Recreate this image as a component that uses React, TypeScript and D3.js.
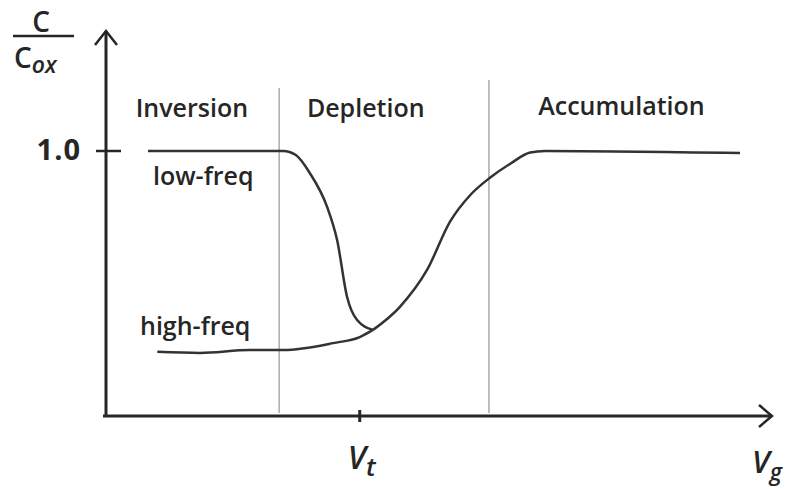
import React from "react";
import * as d3 from "d3";

const lowFreqX = [0.63, 2.66, 2.85, 3.06, 3.32, 3.47, 3.62, 3.77, 4.01];
const lowFreqY = [1.0, 1.0, 0.985, 0.917, 0.789, 0.664, 0.449, 0.362, 0.325];
const riseX = [4.01, 4.41, 4.82, 5.17, 5.47, 5.77, 6.07, 6.37, 6.59, 9.52];
const riseY = [0.325, 0.411, 0.551, 0.735, 0.834, 0.9, 0.952, 0.994, 1.0, 0.992];
const highFreqX = [0.77, 1.41, 2.16, 2.66, 3.41, 3.81, 4.01];
const highFreqY = [0.242, 0.238, 0.249, 0.249, 0.275, 0.298, 0.325];
const separators = [2.6, 5.75];
const vtValue = 3.81;
const regionLabels = ["Inversion", "Depletion", "Accumulation"];
const regionCenters = [1.29, 3.9, 7.74];
const yTickLabel = "1.0";

const W = 786, H = 489;
const x = d3.scaleLinear().domain([0, 10]).range([106, 772]);
const y = d3.scaleLinear().domain([0, 1]).range([416, 151]);

const line = d3
  .line<[number, number]>()
  .x((d) => x(d[0]))
  .y((d) => y(d[1]))
  .curve(d3.curveMonotoneX);

const zip = (a: number[], b: number[]) => a.map((v, i) => [v, b[i]] as [number, number]);

export default function App() {
  const font = "'Open Sans', sans-serif";
  const ink = "#262626";
  const txt = { fontFamily: font, fontSize: 25, fontWeight: 600, fill: ink } as const;
  return (
    <svg width={W} height={H} style={{ position: "absolute", left: 0, top: 0, background: "#fff" }}>
      {separators.map((s, i) => (
        <line key={i} x1={x(s)} x2={x(s)} y1={i === 0 ? 88 : 80} y2={413} stroke="#aaa" strokeWidth={1.5} />
      ))}
      {/* axes */}
      <line x1={106} x2={106} y1={31} y2={417} stroke={ink} strokeWidth={3} />
      <line x1={103} x2={772} y1={416} y2={416} stroke={ink} strokeWidth={3} />
      <polyline points="95,45 106,31 117,45" fill="none" stroke={ink} strokeWidth={2.5} />
      <polyline points="759,405 772,416 759,427" fill="none" stroke={ink} strokeWidth={2.5} />
      {/* 1.0 tick */}
      <line x1={96} x2={121} y1={y(1)} y2={y(1)} stroke={ink} strokeWidth={2.5} />
      <text x={81} y={y(1) + 9} textAnchor="end" fontFamily={font} fontWeight="bold" fontSize={29} letterSpacing={1} fill={ink}>{yTickLabel}</text>
      {/* Vt tick */}
      <line x1={x(vtValue)} x2={x(vtValue)} y1={410} y2={422} stroke={ink} strokeWidth={3} />
      <text x={x(vtValue) - 12} y={469} fontFamily={font} fontWeight={600} fontStyle="italic" fontSize={32} fill={ink}>
        V<tspan fontSize={26} dy={7}>t</tspan>
      </text>
      <text x={752} y={473} fontFamily={font} fontWeight={600} fontStyle="italic" fontSize={31} fill={ink}>
        V<tspan fontSize={23} dy={7}>g</tspan>
      </text>
      {/* C/Cox */}
      <text x={41} y={32} textAnchor="middle" fontFamily={font} fontWeight={600} fontSize={28} fill={ink}>C</text>
      <line x1={13} x2={74} y1={36} y2={36} stroke={ink} strokeWidth={2.5} />
      <text x={14} y={68} fontFamily={font} fontWeight={600} fontSize={28} fill={ink}>
        C<tspan fontSize={23} fontStyle="italic" dy={5}>ox</tspan>
      </text>
      {/* region labels */}
      {regionLabels.map((r, i) => (
        <text key={r} x={x(regionCenters[i])} y={i === 2 ? 115 : 117} textAnchor="middle" {...txt}>{r}</text>
      ))}
      <text x={153} y={185} {...txt}>low-freq</text>
      <text x={140} y={335} {...txt}>high-freq</text>
      {/* curves */}
      <path d={line(zip(lowFreqX, lowFreqY)) || ""} fill="none" stroke="#333" strokeWidth={2.5} />
      <path d={line(zip(riseX, riseY)) || ""} fill="none" stroke="#333" strokeWidth={2.5} />
      <path d={line(zip(highFreqX, highFreqY)) || ""} fill="none" stroke="#333" strokeWidth={2.5} />
    </svg>
  );
}
